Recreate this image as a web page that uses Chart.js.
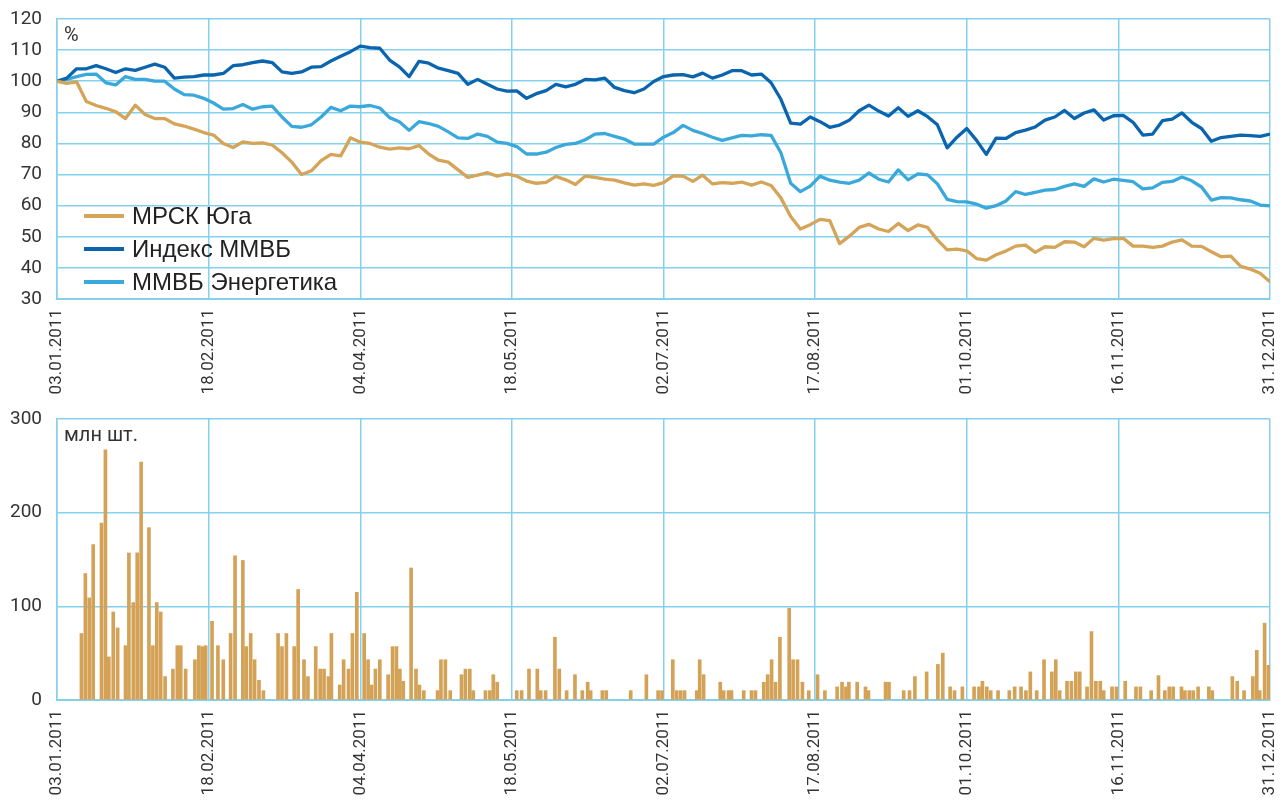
<!DOCTYPE html>
<html>
<head>
<meta charset="utf-8">
<script src="https://cdn.jsdelivr.net/npm/chart.js@4.4.1/dist/chart.umd.min.js"></script>
<style>
  html, body { margin: 0; padding: 0; background: #fff; }
  #wrap { position: relative; width: 1284px; height: 801px; }
  .box { position: absolute; left: 0; width: 1284px; }
</style>
</head>
<body>
<div id="wrap">
  <div class="box" style="top:0;height:400px"><canvas id="priceChart"></canvas></div>
  <div class="box" style="top:400px;height:401px"><canvas id="volumeChart"></canvas></div>
</div>
<script>
// trading session index (x) and tick labels
var tickSessions = [0, 31, 62, 93, 124, 155, 186, 217, 248];
var tickLabels = ['03.01.2011', '18.02.2011', '04.04.2011', '18.05.2011', '02.07.2011',
                  '17.08.2011', '01.10.2011', '16.11.2011', '31.12.2011'];

var sessions = [0, 2, 4, 6, 8, 10, 12, 14, 16, 18,
    20, 22, 24, 26, 28, 30, 32, 34, 36, 38,
    40, 42, 44, 46, 48, 50, 52, 54, 56, 58,
    60, 62, 64, 66, 68, 70, 72, 74, 76, 78,
    80, 82, 84, 86, 88, 90, 92, 94, 96, 98,
    100, 102, 104, 106, 108, 110, 112, 114, 116, 118,
    120, 122, 124, 126, 128, 130, 132, 134, 136, 138,
    140, 142, 144, 146, 148, 150, 152, 154, 156, 158,
    160, 162, 164, 166, 168, 170, 172, 174, 176, 178,
    180, 182, 184, 186, 188, 190, 192, 194, 196, 198,
    200, 202, 204, 206, 208, 210, 212, 214, 216, 218,
    220, 222, 224, 226, 228, 230, 232, 234, 236, 238,
    240, 242, 244, 246, 248];

// % of 03.01.2011 level
var mrskValues = [100, 99.3, 99.8, 93.5, 92.2, 91.3, 90.2, 88, 92.3, 89.3,
    88, 88, 86.3, 85.6, 84.6, 83.5, 82.7, 80, 78.7, 80.5,
    80, 80.2, 79.5, 77, 74, 70, 71.2, 74.5, 76.5, 76,
    81.8, 80.4, 80, 78.8, 78.2, 78.6, 78.3, 79.3, 76.6, 74.6,
    74, 71.5, 69.1, 69.8, 70.6, 69.5, 70.2, 69.5, 67.9, 67.2,
    67.5, 69.4, 68.3, 66.8, 69.5, 69.1, 68.5, 68.2, 67.3, 66.6,
    67, 66.5, 67.4, 69.6, 69.5, 67.8, 69.8, 67, 67.4, 67.2,
    67.6, 66.6, 67.6, 66.5, 62.5, 56.5, 52.5, 53.9, 55.6, 55.2,
    47.8, 50.2, 53, 54, 52.5, 51.7, 54.3, 52, 53.8, 53,
    49, 45.8, 46, 45.5, 43, 42.5, 44.2, 45.4, 47, 47.3,
    45, 46.8, 46.6, 48.4, 48.3, 46.8, 49.5, 48.9, 49.4, 49.5,
    47, 47, 46.6, 47, 48.3, 49, 47, 46.9, 45.2, 43.6,
    43.8, 40.5, 39.6, 38.3, 35.5];

var micexValues = [100, 101, 104, 104, 105, 104, 102.8, 104, 103.5, 104.5,
    105.5, 104.5, 101, 101.3, 101.5, 102, 102, 102.5, 105, 105.3,
    106, 106.5, 106, 103, 102.5, 103, 104.5, 104.7, 106.5, 108,
    109.5, 111.3, 110.8, 110.6, 106.8, 104.6, 101.5, 106.4, 105.8, 104.2,
    103.4, 102.5, 99, 100.6, 99, 97.5, 96.8, 96.9, 94.5, 96,
    97, 99, 98.2, 99, 100.6, 100.4, 101, 98, 97, 96.3,
    97.5, 99.9, 101.5, 102, 102.1, 101.4, 102.6, 101, 102, 103.4,
    103.4, 102, 102.3, 99.5, 94.2, 86.5, 86.2, 88.5, 87, 85.2,
    85.9, 87.5, 90.5, 92.3, 90.4, 88.8, 91.5, 88.7, 90.5, 88.6,
    86, 78.6, 82, 84.8, 81, 76.5, 81.7, 81.6, 83.5, 84.3,
    85.3, 87.5, 88.5, 90.6, 88, 89.8, 90.8, 87.5, 88.9, 89,
    86.8, 82.7, 83, 87.3, 87.8, 89.8, 86.8, 84.8, 80.7, 81.9,
    82.3, 82.7, 82.5, 82.3, 83];

var powerValues = [100, 100.6, 101.5, 102.2, 102.3, 99.5, 98.8, 101.5, 100.6, 100.6,
    100, 100, 97.5, 95.7, 95.5, 94.5, 93, 91, 91.2, 92.5,
    91, 91.8, 92, 88.5, 85.5, 85.2, 86, 88.5, 91.6, 90.5,
    92, 91.8, 92.2, 91.4, 88.3, 87, 84.2, 87, 86.4, 85.5,
    83.7, 81.8, 81.6, 83, 82.3, 80.4, 80, 79, 76.6, 76.6,
    77.2, 78.7, 79.7, 80, 81.2, 83, 83.2, 82.3, 81.4, 79.8,
    79.8, 79.8, 82, 83.5, 85.8, 84.2, 83.2, 82, 81, 81.8,
    82.6, 82.4, 82.8, 82.6, 77, 67.2, 64.5, 66.3, 69.5, 68.2,
    67.6, 67.2, 68.2, 70.5, 68.5, 67.6, 71.5, 68.3, 70.2, 69.9,
    67, 62, 61.3, 61.2, 60.5, 59.2, 60, 61.5, 64.5, 63.6,
    64.3, 65, 65.2, 66.2, 67, 66.2, 68.6, 67.6, 68.5, 68.1,
    67.7, 65.4, 65.7, 67.5, 67.8, 69.2, 68, 66, 61.8, 62.6,
    62.5, 61.9, 61.5, 60.2, 59.9];

// trading volume, mln shares
var volSessions = [5.0, 5.8, 6.6, 7.4, 9.1, 9.9, 10.6, 11.5, 12.4, 14.0,
    14.7, 15.6, 16.4, 17.2, 18.8, 19.6, 20.4, 21.2, 22.1, 23.7,
    24.6, 25.3, 26.3, 28.2, 29.0, 29.7, 30.4, 31.7, 32.9, 34.0,
    35.5, 36.4, 38.0, 38.7, 39.6, 40.4, 41.3, 42.2, 45.2, 46.0,
    46.9, 48.5, 49.3, 50.5, 51.3, 52.9, 53.8, 54.6, 55.5, 56.1,
    57.8, 58.6, 59.6, 60.4, 61.3, 62.8, 63.6, 64.3, 65.1, 66.0,
    67.7, 68.6, 69.4, 70.1, 70.8, 72.4, 73.4, 74.1, 75.0, 77.8,
    78.5, 79.4, 80.4, 82.7, 83.5, 84.4, 85.1, 87.6, 88.5, 89.2,
    90.0, 94.0, 95.0, 96.5, 98.2, 98.9, 99.9, 101.8, 102.7, 104.2,
    105.9, 107.4, 108.5, 109.1, 111.5, 112.3, 117.3, 120.5, 122.9, 123.7,
    125.9, 126.7, 127.5, 128.3, 130.8, 131.4, 132.2, 135.6, 136.3, 137.3,
    137.9, 140.4, 142.0, 142.8, 144.5, 145.3, 146.1, 146.9, 147.8, 149.7,
    150.5, 151.4, 152.4, 153.7, 155.5, 157.0, 159.5, 160.5, 161.3, 161.9,
    163.6, 165.3, 165.9, 169.4, 170.1, 173.1, 174.3, 175.4, 177.8, 180.1,
    181.1, 182.6, 183.5, 185.1, 187.5, 188.5, 189.2, 190.1, 190.9, 192.4,
    194.7, 195.8, 197.1, 198.1, 199.0, 200.3, 201.8, 203.4, 204.2, 205.0,
    206.5, 207.4, 208.3, 209.1, 210.6, 211.5, 212.4, 213.3, 214.0, 215.7,
    216.6, 218.4, 220.6, 221.5, 223.7, 225.2, 226.5, 227.4, 228.2, 229.9,
    230.6, 231.5, 232.3, 233.3, 235.5, 236.2, 240.3, 241.3, 242.7, 244.5,
    245.3, 245.9, 246.9, 247.7];

var volValues = [71, 135, 109, 166, 189, 267, 46, 94, 77, 58,
    157, 104, 157, 254, 184, 58, 104, 94, 25, 33,
    58, 58, 33, 43, 58, 57, 58, 84, 58, 43,
    71, 154, 149, 57, 71, 43, 21, 10, 71, 57,
    71, 57, 118, 43, 25, 57, 33, 33, 25, 71,
    16, 43, 33, 71, 115, 71, 43, 16, 33, 43,
    27, 57, 57, 33, 20, 141, 33, 16, 10, 10,
    43, 43, 10, 27, 33, 33, 10, 10, 10, 27,
    19, 10, 10, 33, 33, 10, 10, 67, 33, 10,
    27, 10, 19, 10, 10, 10, 10, 27, 10, 10,
    43, 10, 10, 10, 10, 43, 27, 19, 10, 10,
    10, 10, 10, 10, 19, 27, 43, 19, 67, 98,
    43, 43, 19, 10, 27, 10, 14, 19, 14, 19,
    19, 14, 10, 19, 19, 10, 10, 25, 30, 38,
    50, 14, 10, 14, 14, 14, 20, 14, 10, 10,
    10, 14, 14, 10, 30, 10, 43, 30, 43, 10,
    20, 20, 30, 30, 14, 73, 20, 20, 10, 14,
    14, 20, 14, 14, 10, 26, 10, 14, 14, 14,
    10, 10, 10, 14, 14, 10, 25, 20, 10, 25,
    53, 10, 82, 37];

var gridColor = '#84D1EE';
var tickFont = { family: "Roboto, 'Liberation Sans', sans-serif", size: 19 };
var dateFont = { family: "Roboto, 'Liberation Sans', sans-serif", size: 17 };

function pairs(xs, ys) {
    return xs.map(function(x, i) { return { x: x, y: ys[i] }; });
}

function sessionAxis() {
    return {
        type: 'linear',
        min: 0,
        max: 248,
        offset: false,
        afterBuildTicks: function(axis) {
            axis.ticks = tickSessions.map(function(v) { return { value: v }; });
        },
        afterFit: function(axis) {
            axis.height = 101;
            // rotated labels should not push the plot area inwards
            axis.paddingLeft = 0;
            axis.paddingRight = 0;
        },
        ticks: {
            autoSkip: false,
            maxRotation: 90,
            minRotation: 90,
            padding: 10,
            color: '#333',
            font: dateFont,
            callback: function(value) { return tickLabels[tickSessions.indexOf(value)]; }
        },
        grid: { color: gridColor, lineWidth: 1.5, drawTicks: false, offset: false },
        border: { color: gridColor, width: 2 }
    };
}

function valueAxis(min, max, step) {
    return {
        min: min,
        max: max,
        afterFit: function(axis) {
            axis.width = 57;
            axis.paddingTop = 0;
            axis.paddingBottom = 0;
        },
        ticks: { stepSize: step, padding: 15, color: '#333', font: tickFont },
        grid: { color: gridColor, lineWidth: 1.5, drawTicks: false },
        border: { color: gridColor, width: 1.5 }
    };
}

// unit caption in the top-left corner of the plot area
var unitLabel = {
    id: 'unitLabel',
    afterDraw: function(chart, args, opts) {
        var ctx = chart.ctx;
        ctx.save();
        ctx.fillStyle = '#333';
        ctx.font = "20px Roboto, 'Liberation Sans', sans-serif";
        ctx.textBaseline = 'alphabetic';
        ctx.fillText(opts.text, chart.chartArea.left + 7, chart.chartArea.top + 22);
        ctx.restore();
    }
};

// legend drawn inside the plot area, bottom left
var insideLegend = {
    id: 'insideLegend',
    afterDatasetsDraw: function(chart) {
        var ctx = chart.ctx;
        ctx.save();
        ctx.font = "24px 'Liberation Sans', Arial, sans-serif";
        ctx.textBaseline = 'middle';
        chart.data.datasets.forEach(function(ds, i) {
            var y = 216 + i * 33;
            ctx.strokeStyle = ds.borderColor;
            ctx.lineWidth = 4;
            ctx.beginPath();
            ctx.moveTo(84, y);
            ctx.lineTo(124, y);
            ctx.stroke();
            ctx.fillStyle = '#222';
            ctx.fillText(ds.label, 132, y + 1);
        });
        ctx.restore();
    }
};

new Chart(document.getElementById('priceChart').getContext('2d'), {
    type: 'line',
    data: {
        datasets: [
            { label: 'МРСК Юга', data: pairs(sessions, mrskValues), borderColor: '#D4A459' },
            { label: 'Индекс ММВБ', data: pairs(sessions, micexValues), borderColor: '#0A64AE' },
            { label: 'ММВБ Энергетика', data: pairs(sessions, powerValues), borderColor: '#3AA8DA' }
        ]
    },
    options: {
        responsive: true,
        maintainAspectRatio: false,
        animation: false,
        layout: { padding: { top: 19, right: 14, left: 0, bottom: 0 } },
        elements: {
            line: { borderWidth: 3.3, tension: 0, borderJoinStyle: 'round' },
            point: { radius: 0 }
        },
        plugins: {
            legend: { display: false },
            tooltip: { enabled: false },
            unitLabel: { text: '%' }
        },
        scales: {
            x: sessionAxis(),
            y: valueAxis(30, 120, 10)
        }
    },
    plugins: [unitLabel, insideLegend]
});

new Chart(document.getElementById('volumeChart').getContext('2d'), {
    type: 'bar',
    data: {
        datasets: [{
            label: 'Объём торгов',
            data: pairs(volSessions, volValues),
            backgroundColor: '#D4A257',
            borderWidth: 0,
            barThickness: 3
        }]
    },
    options: {
        responsive: true,
        maintainAspectRatio: false,
        animation: false,
        layout: { padding: { top: 19, right: 14, left: 0, bottom: 0 } },
        plugins: {
            legend: { display: false },
            tooltip: { enabled: false },
            unitLabel: { text: 'млн шт.' }
        },
        scales: {
            x: sessionAxis(),
            y: valueAxis(0, 300, 100)
        }
    },
    plugins: [unitLabel]
});
</script>
</body>
</html>
